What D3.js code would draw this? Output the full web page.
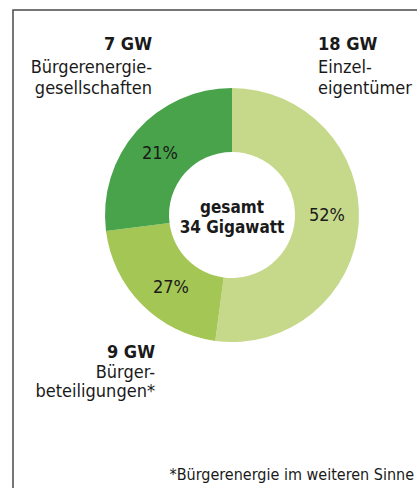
<!DOCTYPE html>
<html><head><meta charset="utf-8">
<script src="https://cdn.jsdelivr.net/npm/d3@7"></script>
<style>
html,body{margin:0;padding:0;background:#fff;}
svg{display:block;}
text{font-family:"DejaVu Sans Condensed","Liberation Sans Narrow","Open Sans",sans-serif;fill:#1a1a1a;}
</style></head><body>
<svg id="chart" width="417" height="488"></svg>
<script>
// Segments in clockwise order from 12 o'clock
const categories = ["Einzeleigentümer", "Bürgerbeteiligungen*", "Bürgerenergiegesellschaften"];
const gigawatt = [18, 9, 7];
const percentLabels = ["52%", "27%", "21%"];
// Arc shares as drawn in the reference picture (%)
const arcShare = [52.1, 20.9, 27.0];
const colors = ["#c6d98b", "#a3c655", "#48a34b"];
const labelLines = [["Einzel-", "eigentümer"], ["Bürger-", "beteiligungen*"], ["Bürgerenergie-", "gesellschaften"]];
const totalLines = ["gesamt", "34 Gigawatt"];
const footnote = "*Bürgerenergie im weiteren Sinne";

const svg = d3.select("#chart");
// frame
svg.append("path").attr("d", "M13,488 L13,10 L417,10")
  .attr("fill", "none").attr("stroke", "#4a4a4a").attr("stroke-width", 1.5);

const cx = 232, cy = 215, rOuter = 127, rInner = 63;
const g = svg.append("g").attr("transform", `translate(${cx},${cy})`);
const pie = d3.pie().sort(null).value(d => d)(arcShare);
const arc = d3.arc().innerRadius(rInner).outerRadius(rOuter);
g.selectAll("path.slice").data(pie).enter().append("path")
  .attr("class", "slice").attr("d", arc).attr("fill", (d, i) => colors[i]);

// percent labels
const pctPos = [[95, 0], [-61, 72], [-72, -62]];
g.selectAll("text.pct").data(percentLabels).enter().append("text")
  .attr("class", "pct")
  .attr("x", (d, i) => pctPos[i][0]).attr("y", (d, i) => pctPos[i][1] + 6)
  .attr("text-anchor", "middle").attr("font-size", 18).text(d => d);

// center total
g.selectAll("text.tot").data(totalLines).enter().append("text")
  .attr("class", "tot").attr("x", 0).attr("y", (d, i) => -2 + i * 20)
  .attr("text-anchor", "middle").attr("font-size", 17).attr("font-weight", "bold").text(d => d);

// outer labels
const outer = [
  {x: 318, y: 50, anchor: "start", dy: [23, 44]},
  {x: 155, y: 358, anchor: "end", dy: [20, 39]},
  {x: 152, y: 50, anchor: "end", dy: [23, 44]}
];
outer.forEach((p, i) => {
  const t = svg.append("text").attr("text-anchor", p.anchor).attr("font-size", 18);
  t.append("tspan").attr("x", p.x).attr("y", p.y).attr("font-weight", "bold").text(gigawatt[i] + " GW");
  labelLines[i].forEach((ln, j) => {
    t.append("tspan").attr("x", p.x).attr("y", p.y + p.dy[j]).text(ln);
  });
});

svg.append("text").attr("x", 414).attr("y", 480).attr("text-anchor", "end")
  .attr("font-size", 16).text(footnote);
</script>
</body></html>
